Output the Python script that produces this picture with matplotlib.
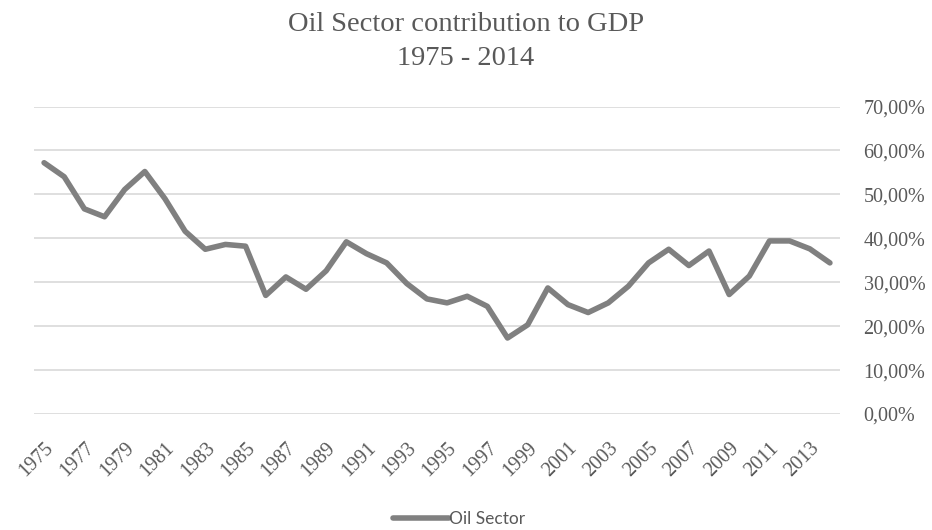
import matplotlib
matplotlib.use("Agg")
import matplotlib.pyplot as plt
from matplotlib.ticker import FuncFormatter, MultipleLocator
from matplotlib.transforms import ScaledTranslation

years = list(range(1975, 2015))
oil_share = [
    57.2, 54.0, 46.7, 44.9, 51.1, 55.2, 49.0, 41.6, 37.5, 38.6,
    38.2, 27.0, 31.2, 28.4, 32.6, 39.2, 36.5, 34.4, 29.7, 26.2,
    25.3, 26.8, 24.5, 17.3, 20.3, 28.7, 24.9, 23.1, 25.3, 29.1,
    34.4, 37.5, 33.8, 37.1, 27.2, 31.4, 39.4, 39.4, 37.6, 34.4,
]
series_name = "Oil Sector"
title_lines = ["Oil Sector contribution to GDP", "1975 - 2014"]

serif = ["Liberation Serif", "DejaVu Serif"]
text_grey = "#595959"

fig = plt.figure(figsize=(9.32, 5.3), dpi=100)
ax = fig.add_axes([34 / 932, 1 - 414 / 530, (840 - 34) / 932, (414 - 106.5) / 530])

x = list(range(len(years)))
ax.plot(x, [v / 100 for v in oil_share], color="#808080", lw=4.0,
        solid_joinstyle="round", solid_capstyle="round", label=series_name, zorder=3)

ax.set_xlim(-0.5, len(years) - 0.5)
ax.set_ylim(0, 0.70)
ax.yaxis.set_major_locator(MultipleLocator(0.10))
ax.yaxis.set_major_formatter(FuncFormatter(lambda v, _: f"{v * 100:.2f}%".replace(".", ",")))
ax.yaxis.tick_right()
ax.grid(axis="y", color="#d9d9d9", lw=1.2)
ax.set_axisbelow(True)
for s in ax.spines.values():
    s.set_visible(False)

ax.set_xticks(x[::2])
ax.set_xticklabels([str(y) for y in years[::2]], rotation=45, ha="right",
                   rotation_mode="anchor", family=serif, fontsize=14.5, color=text_grey)
shift = ScaledTranslation(-5 / 100, 0, fig.dpi_scale_trans)
for lab in ax.get_xticklabels():
    lab.set_transform(lab.get_transform() + shift)
for lab in ax.get_yticklabels():
    lab.set_family(serif)
    lab.set_fontsize(14.5)
    lab.set_color(text_grey)
ax.tick_params(axis="both", length=0)
ax.tick_params(axis="y", pad=17)
ax.tick_params(axis="x", pad=18)

# two-line centred title
for line, base_y in zip(title_lines, (31, 65)):
    fig.text(0.5, 1 - base_y / 530, line, ha="center", va="baseline",
             family=serif, fontsize=20.5, color=text_grey)

leg = fig.legend(loc="center", bbox_to_anchor=(0.5 - 7 / 932, 1 - 519 / 530), frameon=False,
                 prop={"family": ["Lato", "DejaVu Sans"], "size": 12.5},
                 handlelength=3.2, handletextpad=0.0, borderpad=0.2)
for t in leg.get_texts():
    t.set_color(text_grey)

fig.savefig("out.png", dpi=100)
